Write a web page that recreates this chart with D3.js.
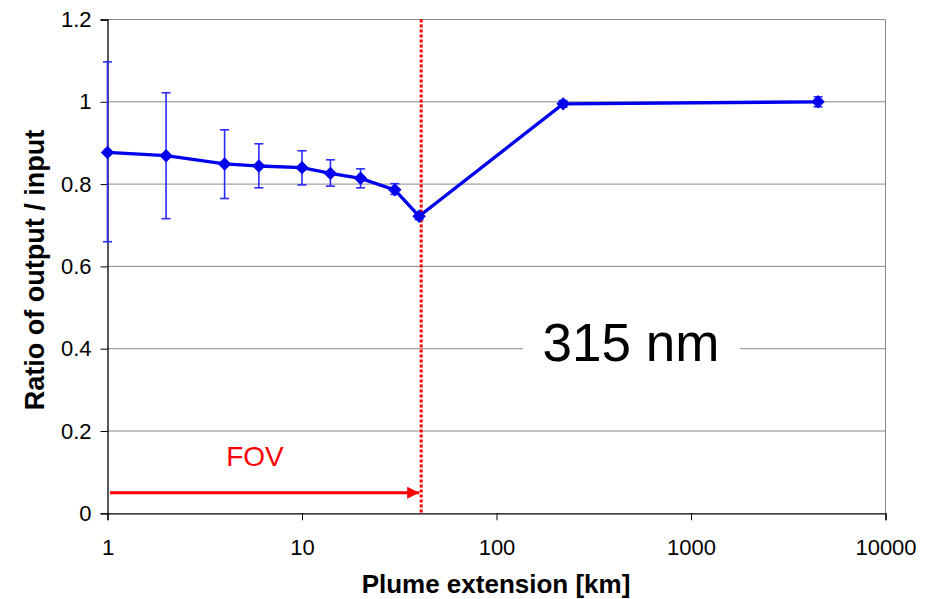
<!DOCTYPE html>
<html><head><meta charset="utf-8">
<script src="https://cdn.jsdelivr.net/npm/d3@7"></script>
<style>body{margin:0;background:#fff;} svg{display:block;font-family:"Liberation Sans",Arial,sans-serif;}</style>
</head><body><svg id="c" width="932" height="599"></svg>
<script>
const xValues = [1, 2, 4, 6, 10, 14, 20, 30, 40, 220, 4500];
const ratio   = [0.877, 0.869, 0.849, 0.844, 0.840, 0.826, 0.814, 0.786, 0.722, 0.995, 1.000];
const errHigh = [1.097, 1.022, 0.932, 0.898, 0.881, 0.859, 0.837, 0.801, 0.730, 1.003, 1.012];
const errLow  = [0.660, 0.716, 0.765, 0.791, 0.798, 0.795, 0.791, 0.775, 0.714, 0.987, 0.988];
const xTicks = [1, 10, 100, 1000, 10000];
const yTicks = [0, 0.2, 0.4, 0.6, 0.8, 1, 1.2];
const fovX = 41;
const fovArrowY = 0.05;

const svg = d3.select("#c");
const L = 107.5, R = 885.5, T = 19.5, B = 513.3;
const x = d3.scaleLog().domain([1, 10000]).range([L, R]);
const y = d3.scaleLinear().domain([0, 1.2]).range([B, T]);

// gridlines
svg.append("g").selectAll("line").data(yTicks.filter(d => d > 0 && d < 1.2)).join("line")
  .attr("x1", L).attr("x2", R).attr("y1", d => y(d)).attr("y2", d => y(d))
  .attr("stroke", "#111").attr("stroke-width", 1).attr("stroke-dasharray", "1,1");
// plot border
svg.append("line").attr("x1", R).attr("x2", R).attr("y1", T).attr("y2", B).attr("stroke", "#888");
svg.append("line").attr("x1", L).attr("x2", R).attr("y1", T).attr("y2", T).attr("stroke", "#888");

// axes
const yAxis = d3.axisLeft(y).tickValues(yTicks).tickSize(7).tickPadding(9)
  .tickFormat(d => d3.format("")(+d.toFixed(1)));
const gy = svg.append("g").attr("transform", `translate(${L},0)`).call(yAxis);
const xAxis = d3.axisBottom(x).tickValues(xTicks).tickSize(7).tickPadding(19).tickFormat(d3.format("d"));
const gx = svg.append("g").attr("transform", `translate(0,${B})`).call(xAxis);
[gx, gy].forEach(g => {
  g.select(".domain").attr("stroke", "#000").attr("stroke-width", 1.3);
  g.selectAll(".tick line").attr("stroke", "#000");
  g.selectAll("text").attr("font-size", 22).attr("fill", "#000").attr("font-family", '"Liberation Sans",Arial,sans-serif');
});

// 315 nm label with white box
const lbl = svg.append("g");
lbl.append("rect").attr("x", 523).attr("y", y(0.4) - 30).attr("width", 217).attr("height", 60).attr("fill", "#fff");
lbl.append("text").attr("x", 631).attr("y", 361).attr("text-anchor", "middle")
  .attr("font-size", 53).attr("fill", "#000").text("315 nm");

// FOV
svg.append("line").attr("x1", x(fovX)).attr("x2", x(fovX)).attr("y1", T).attr("y2", B)
  .attr("stroke", "#f00").attr("stroke-width", 3).attr("stroke-dasharray", "3,2");
svg.append("defs").append("marker").attr("id", "arr").attr("viewBox", "0 0 10 10")
  .attr("refX", 10).attr("refY", 5).attr("markerWidth", 4.5).attr("markerHeight", 4)
  .attr("markerUnits", "strokeWidth").attr("orient", "auto")
  .append("path").attr("d", "M0,0L10,5L0,10Z").attr("fill", "#f00");
svg.append("line").attr("x1", x(1) + 2.5).attr("x2", x(fovX) - 2).attr("y1", y(fovArrowY)).attr("y2", y(fovArrowY))
  .attr("stroke", "#f00").attr("stroke-width", 3).attr("marker-end", "url(#arr)");
svg.append("text").attr("x", 255).attr("y", 466).attr("text-anchor", "middle")
  .attr("font-size", 28).attr("fill", "#f00").text("FOV");

// data
const data = xValues.map((v, i) => ({x: v, y: ratio[i], hi: errHigh[i], lo: errLow[i]}));
const eb = svg.append("g").attr("stroke", "#2a2aff").attr("stroke-width", 1.6);
data.forEach(d => {
  eb.append("line").attr("x1", x(d.x)).attr("x2", x(d.x)).attr("y1", y(d.hi)).attr("y2", y(d.lo));
  [d.hi, d.lo].forEach(v => eb.append("line").attr("x1", x(d.x) - 4.5).attr("x2", x(d.x) + 4.5).attr("y1", y(v)).attr("y2", y(v)));
});
svg.append("path").datum(data)
  .attr("d", d3.line().x(d => x(d.x)).y(d => y(d.y)))
  .attr("fill", "none").attr("stroke", "#0000ee").attr("stroke-width", 3.3);
svg.append("g").selectAll("path").data(data).join("path")
  .attr("transform", d => `translate(${x(d.x)},${y(d.y)})`)
  .attr("d", d3.symbol(d3.symbolDiamond2, 115)).attr("fill", "#0000ee");

// titles
svg.append("text").attr("x", 496).attr("y", 593).attr("text-anchor", "middle")
  .attr("font-size", 26).attr("font-weight", "bold").text("Plume extension [km]");
svg.append("text").attr("transform", `translate(44,270) rotate(-90)`).attr("text-anchor", "middle")
  .attr("font-size", 27).attr("font-weight", "bold").text("Ratio of output / input");
</script></body></html>
